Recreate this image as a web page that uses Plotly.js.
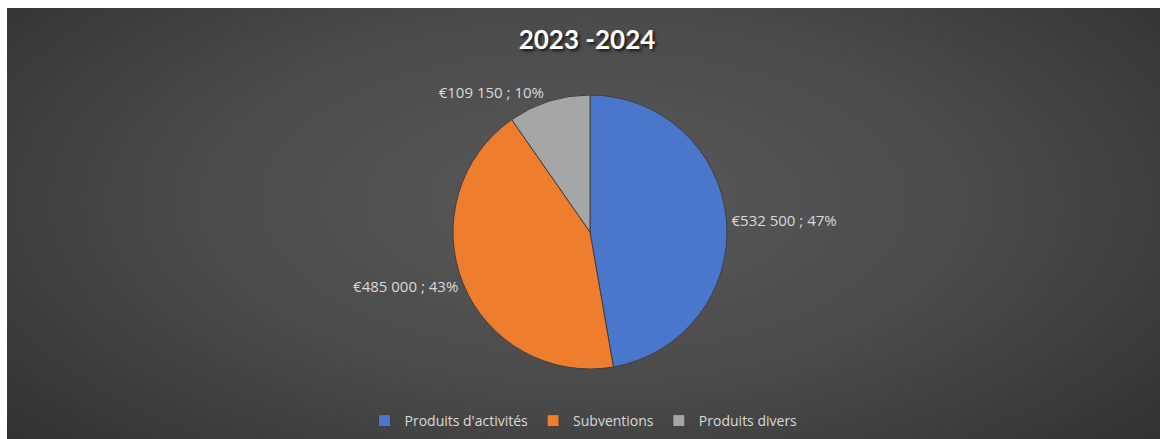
<!DOCTYPE html>
<html>
<head>
<meta charset="utf-8">
<script src="https://cdn.plot.ly/plotly-3.0.1.min.js"></script>
<style>
  html, body { margin: 0; padding: 0; background: #ffffff; width: 1160px; height: 439px; overflow: hidden; }
  #frame {
    position: absolute; left: 7px; top: 8px; width: 1153px; height: 431px;
    background: radial-gradient(ellipse 75% 95% at 50% 45%, #595959 0%, #4b4b4b 45%, #343434 85%, #2b2b2b 100%);
  }
  #chart { width: 1153px; height: 431px; }
</style>
</head>
<body>
<div id="frame"><div id="chart"></div></div>
<script>
const categories = ["Produits d'activités", "Subventions", "Produits divers"];
const values = [532500, 485000, 109150];
const sliceColors = ["#4a76cc", "#ee7d2e", "#a6a6a6"];
const chartTitle = "2023 -2024";

const W = 1153, H = 431;
const cx = 583, cy = 224, r = 137;
const FONT = '"Open Sans", "Noto Sans", sans-serif';

const trace = {
  type: 'pie',
  labels: categories,
  values: values,
  sort: false,
  direction: 'clockwise',
  rotation: 0,
  marker: { colors: sliceColors, line: { color: '#3f3f3f', width: 1 } },
  textposition: 'outside',
  texttemplate: '€%{value:,} ; %{percent:.0%}',
  textfont: { family: FONT, size: 15, color: '#d9d9d9' },
  outsidetextfont: { family: FONT, size: 15, color: '#d9d9d9' },
  hoverinfo: 'none',
  domain: {
    x: [(cx - r) / W, (cx + r) / W],
    y: [(H - cy - r) / H, (H - cy + r) / H]
  }
};

const layout = {
  width: W, height: H,
  margin: { l: 0, r: 0, t: 0, b: 0 },
  paper_bgcolor: 'rgba(0,0,0,0)',
  plot_bgcolor: 'rgba(0,0,0,0)',
  separators: ', ',
  title: {
    text: '<b>' + chartTitle + '</b>',
    x: 580 / W, xanchor: 'center',
    y: 1 - 32 / H, yanchor: 'middle',
    font: { family: 'Lato, "Open Sans", sans-serif', size: 26, color: '#ffffff', shadow: '2px 2px 3px rgba(0,0,0,0.7)' }
  },
  showlegend: true,
  legend: {
    orientation: 'h',
    x: 0.5, xanchor: 'center',
    y: 18 / H, yanchor: 'middle',
    font: { family: FONT, size: 14, color: '#d9d9d9' },
    bgcolor: 'rgba(0,0,0,0)',
    itemwidth: 30
  }
};

Plotly.newPlot('chart', [trace], layout, { displayModeBar: false, staticPlot: true });
</script>
</body>
</html>
